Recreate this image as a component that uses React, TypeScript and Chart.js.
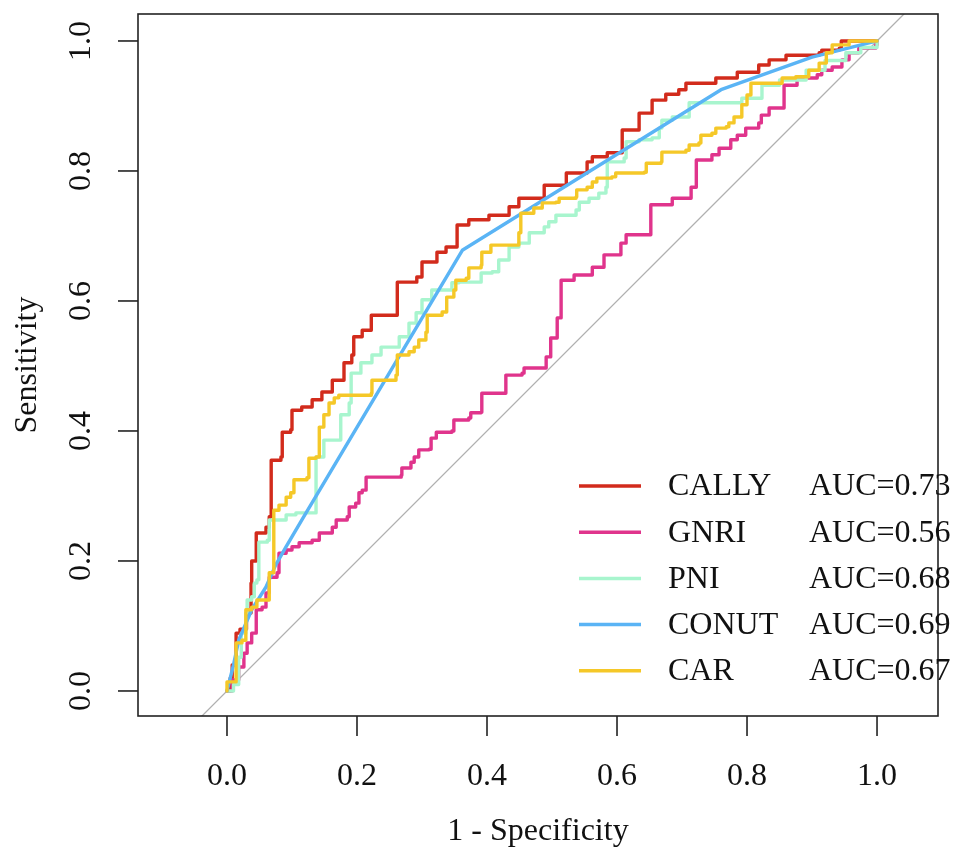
import React, { useEffect, useRef } from "react";
import { Chart, registerables } from "chart.js";

Chart.register(...registerables);

// ---------- data ----------
const seriesNames = ["CALLY", "GNRI", "PNI", "CONUT", "CAR"];
const aucLabels = ["AUC=0.73", "AUC=0.56", "AUC=0.68", "AUC=0.69", "AUC=0.67"];
const seriesColors = ["#D22B1C", "#E0348C", "#A8F5CE", "#5AB4F5", "#F5C828"];

const xTicks = [0, 0.2, 0.4, 0.6, 0.8, 1.0];
const xTickLabels = ["0.0", "0.2", "0.4", "0.6", "0.8", "1.0"];
const yTicks = [0, 0.2, 0.4, 0.6, 0.8, 1.0];
const yTickLabels = ["0.0", "0.2", "0.4", "0.6", "0.8", "1.0"];
const xTitle = "1 - Specificity";
const yTitle = "Sensitivity";

// points are [1 - specificity, sensitivity]
const callyPoints: [number, number][] = [
  [0, 0], [0.005, 0.02], [0.008, 0.04], [0.014, 0.045], [0.014, 0.089], [0.02, 0.095],
  [0.03, 0.12], [0.037, 0.166], [0.038, 0.2], [0.044, 0.2], [0.045, 0.243], [0.06, 0.252],
  [0.065, 0.268], [0.068, 0.268], [0.068, 0.355], [0.083, 0.36], [0.085, 0.398], [0.098, 0.402],
  [0.1, 0.432], [0.115, 0.437], [0.131, 0.448], [0.146, 0.46], [0.162, 0.478], [0.18, 0.505],
  [0.192, 0.517], [0.195, 0.545], [0.208, 0.555], [0.222, 0.578], [0.26, 0.578], [0.262, 0.629],
  [0.292, 0.637], [0.3, 0.66], [0.323, 0.675], [0.337, 0.683], [0.354, 0.717], [0.372, 0.725],
  [0.403, 0.732], [0.434, 0.745], [0.449, 0.758], [0.488, 0.778], [0.522, 0.797], [0.554, 0.814],
  [0.562, 0.822], [0.585, 0.828], [0.608, 0.863], [0.634, 0.889], [0.654, 0.909], [0.675, 0.918],
  [0.695, 0.925], [0.706, 0.935], [0.752, 0.943], [0.785, 0.952], [0.818, 0.963], [0.834, 0.971],
  [0.86, 0.978], [0.911, 0.982], [0.915, 0.986], [0.942, 0.989], [0.945, 1.0], [1, 1],
];

const gnriPoints: [number, number][] = [
  [0, 0], [0.008, 0.017], [0.018, 0.037], [0.026, 0.058], [0.031, 0.074], [0.038, 0.089],
  [0.045, 0.125], [0.054, 0.129], [0.06, 0.151], [0.065, 0.175], [0.077, 0.182], [0.08, 0.212],
  [0.091, 0.217], [0.1, 0.222], [0.111, 0.228], [0.131, 0.232], [0.142, 0.243], [0.162, 0.252],
  [0.168, 0.263], [0.185, 0.268], [0.188, 0.283], [0.198, 0.289], [0.203, 0.305], [0.208, 0.309],
  [0.214, 0.329], [0.268, 0.332], [0.269, 0.343], [0.283, 0.352], [0.288, 0.36], [0.295, 0.371],
  [0.311, 0.372], [0.314, 0.389], [0.322, 0.398], [0.346, 0.4], [0.349, 0.417], [0.372, 0.42],
  [0.375, 0.428], [0.391, 0.429], [0.392, 0.458], [0.429, 0.458], [0.429, 0.486], [0.454, 0.489],
  [0.457, 0.497], [0.491, 0.497], [0.491, 0.514], [0.498, 0.543], [0.508, 0.574], [0.514, 0.632],
  [0.534, 0.64], [0.562, 0.652], [0.58, 0.671], [0.606, 0.689], [0.614, 0.702], [0.652, 0.702],
  [0.652, 0.748], [0.685, 0.758], [0.714, 0.775], [0.722, 0.817], [0.746, 0.825], [0.757, 0.835],
  [0.775, 0.848], [0.785, 0.855], [0.798, 0.866], [0.818, 0.874], [0.822, 0.886], [0.834, 0.897],
  [0.854, 0.897], [0.857, 0.932], [0.877, 0.943], [0.908, 0.948], [0.915, 0.955], [0.931, 0.96],
  [0.946, 0.971], [0.957, 0.982], [0.972, 0.989], [0.998, 0.994], [1, 1],
];

const pniPoints: [number, number][] = [
  [0, 0], [0.01, 0.01], [0.018, 0.052], [0.022, 0.089], [0.029, 0.12], [0.031, 0.14],
  [0.038, 0.145], [0.042, 0.166], [0.046, 0.171], [0.049, 0.229], [0.062, 0.232], [0.065, 0.263],
  [0.091, 0.271], [0.106, 0.274], [0.137, 0.294], [0.137, 0.36], [0.149, 0.374], [0.149, 0.386],
  [0.172, 0.386], [0.175, 0.425], [0.188, 0.443], [0.191, 0.489], [0.206, 0.505], [0.223, 0.517],
  [0.237, 0.529], [0.265, 0.545], [0.28, 0.566], [0.291, 0.582], [0.3, 0.602], [0.315, 0.617],
  [0.346, 0.628], [0.357, 0.629], [0.391, 0.643], [0.408, 0.645], [0.418, 0.663], [0.434, 0.683],
  [0.449, 0.689], [0.465, 0.705], [0.488, 0.714], [0.495, 0.722], [0.506, 0.732], [0.537, 0.74],
  [0.542, 0.752], [0.557, 0.758], [0.572, 0.766], [0.583, 0.775], [0.585, 0.814], [0.611, 0.82],
  [0.614, 0.845], [0.634, 0.848], [0.654, 0.851], [0.665, 0.866], [0.669, 0.878], [0.685, 0.883],
  [0.711, 0.905], [0.792, 0.912], [0.823, 0.932], [0.85, 0.94], [0.891, 0.955], [0.92, 0.97],
  [0.952, 0.982], [0.975, 0.99], [1, 1],
];

const conutPoints: [number, number][] = [
  [0, 0], [0.01, 0.04], [0.018, 0.078], [0.038, 0.125], [0.06, 0.16], [0.075, 0.194],
  [0.091, 0.222], [0.115, 0.263], [0.362, 0.678], [0.76, 0.925], [0.9, 0.975], [1, 1],
];

const carPoints: [number, number][] = [
  [0, 0], [0, 0.014], [0.011, 0.014], [0.014, 0.074], [0.023, 0.078], [0.029, 0.125],
  [0.038, 0.129], [0.046, 0.14], [0.054, 0.14], [0.065, 0.182], [0.069, 0.182], [0.072, 0.278],
  [0.08, 0.286], [0.091, 0.298], [0.098, 0.305], [0.103, 0.325], [0.123, 0.328], [0.126, 0.358],
  [0.137, 0.36], [0.142, 0.406], [0.149, 0.425], [0.157, 0.443], [0.165, 0.451], [0.172, 0.455],
  [0.222, 0.458], [0.223, 0.478], [0.26, 0.486], [0.262, 0.517], [0.28, 0.522], [0.288, 0.529],
  [0.295, 0.54], [0.306, 0.552], [0.308, 0.578], [0.331, 0.583], [0.338, 0.606], [0.349, 0.617],
  [0.352, 0.632], [0.368, 0.635], [0.372, 0.651], [0.391, 0.655], [0.392, 0.675], [0.406, 0.686],
  [0.446, 0.686], [0.449, 0.705], [0.452, 0.735], [0.472, 0.743], [0.48, 0.743], [0.485, 0.751],
  [0.506, 0.752], [0.511, 0.758], [0.537, 0.76], [0.538, 0.771], [0.554, 0.775], [0.562, 0.783],
  [0.569, 0.789], [0.592, 0.791], [0.598, 0.797], [0.642, 0.798], [0.645, 0.812], [0.668, 0.814],
  [0.669, 0.829], [0.706, 0.832], [0.711, 0.84], [0.726, 0.843], [0.729, 0.855], [0.746, 0.858],
  [0.752, 0.866], [0.768, 0.868], [0.772, 0.874], [0.78, 0.883], [0.792, 0.902], [0.8, 0.917],
  [0.806, 0.935], [0.854, 0.937], [0.854, 0.943], [0.875, 0.945], [0.895, 0.955], [0.911, 0.966],
  [0.922, 0.982], [0.931, 0.994], [0.957, 0.997], [0.957, 1.0], [1, 1],
];

const seriesPoints = [callyPoints, gnriPoints, pniPoints, conutPoints, carPoints];
const seriesStepped = [true, true, true, false, true];

// axis ranges (R style, extended)
const X_MIN = -0.1369;
const X_MAX = 1.0938;
const Y_MIN = -0.0385;
const Y_MAX = 1.0415;

const FONT = '"Liberation Serif", "Times New Roman", Times, serif';
const FONT_SIZE = 32;
const TEXT_COLOR = "#111111";

const rAxesPlugin = {
  id: "rAxes",
  beforeDraw(chart: any) {
    const { ctx, width, height } = chart;
    ctx.save();
    ctx.fillStyle = "#ffffff";
    ctx.fillRect(0, 0, width, height);
    ctx.restore();
  },
  beforeDatasetsDraw(chart: any) {
    const { ctx, chartArea: a, scales } = chart;
    const xs = scales.x;
    const ys = scales.y;
    ctx.save();
    ctx.beginPath();
    ctx.rect(a.left, a.top, a.right - a.left, a.bottom - a.top);
    ctx.clip();
    const lo = Math.min(xs.min, ys.min) - 0.1;
    const hi = Math.max(xs.max, ys.max) + 0.1;
    ctx.strokeStyle = "#B0B0B0";
    ctx.lineWidth = 1.3;
    ctx.beginPath();
    ctx.moveTo(xs.getPixelForValue(lo), ys.getPixelForValue(lo));
    ctx.lineTo(xs.getPixelForValue(hi), ys.getPixelForValue(hi));
    ctx.stroke();
    ctx.restore();
  },
  afterDraw(chart: any) {
    const { ctx, chartArea: a, scales } = chart;
    const xs = scales.x;
    const ys = scales.y;
    ctx.save();
    // box
    ctx.strokeStyle = "#222222";
    ctx.lineWidth = 1.6;
    ctx.strokeRect(a.left, a.top, a.right - a.left, a.bottom - a.top);

    const tickLen = 20;
    ctx.font = `${FONT_SIZE}px ${FONT}`;
    ctx.fillStyle = TEXT_COLOR;

    // x ticks
    ctx.textAlign = "center";
    ctx.textBaseline = "middle";
    xTicks.forEach((v, i) => {
      const px = xs.getPixelForValue(v);
      ctx.beginPath();
      ctx.moveTo(px, a.bottom);
      ctx.lineTo(px, a.bottom + tickLen);
      ctx.stroke();
      ctx.fillText(xTickLabels[i], px, a.bottom + 61);
    });

    // y ticks
    yTicks.forEach((v, i) => {
      const py = ys.getPixelForValue(v);
      ctx.beginPath();
      ctx.moveTo(a.left, py);
      ctx.lineTo(a.left - tickLen, py);
      ctx.stroke();
      ctx.save();
      ctx.translate(a.left - 56, py);
      ctx.rotate(-Math.PI / 2);
      ctx.fillText(yTickLabels[i], 0, 0);
      ctx.restore();
    });

    // axis titles
    ctx.fillText(xTitle, (a.left + a.right) / 2, a.bottom + 116);
    ctx.save();
    ctx.translate(a.left - 110, (a.top + a.bottom) / 2);
    ctx.rotate(-Math.PI / 2);
    ctx.fillText(yTitle, 0, 0);
    ctx.restore();

    // legend
    const lx0 = 579;
    const lx1 = 641;
    const ly0 = 486;
    const lstep = 46.2;
    ctx.textAlign = "left";
    seriesNames.forEach((name, i) => {
      const yy = ly0 + i * lstep;
      ctx.strokeStyle = seriesColors[i];
      ctx.lineWidth = 3.5;
      ctx.lineCap = "butt";
      ctx.beginPath();
      ctx.moveTo(lx0, yy);
      ctx.lineTo(lx1, yy);
      ctx.stroke();
      ctx.fillStyle = TEXT_COLOR;
      ctx.fillText(name, 668, yy + 1);
      ctx.fillText(aucLabels[i], 809, yy + 1);
    });
    ctx.restore();
  },
};

export default function App() {
  const canvasRef = useRef<HTMLCanvasElement | null>(null);

  useEffect(() => {
    if (!canvasRef.current) return;
    const datasets = seriesNames.map((name, i) => ({
      label: name,
      data: seriesPoints[i].map(([x, y]) => ({ x, y })),
      borderColor: seriesColors[i],
      backgroundColor: seriesColors[i],
      borderWidth: 3.4,
      pointRadius: 0,
      showLine: true,
      fill: false,
      stepped: seriesStepped[i] ? ("before" as const) : false,
      borderJoinStyle: "round" as const,
      borderCapStyle: "round" as const,
      tension: 0,
      order: seriesNames.length - i,
    }));

    const chart = new Chart(canvasRef.current, {
      type: "scatter",
      data: { datasets },
      options: {
        responsive: false,
        animation: false,
        devicePixelRatio: 1,
        layout: { padding: { left: 138, top: 14, right: 15, bottom: 135 } },
        scales: {
          x: { type: "linear", min: X_MIN, max: X_MAX, display: false },
          y: { type: "linear", min: Y_MIN, max: Y_MAX, display: false },
        },
        plugins: {
          legend: { display: false },
          tooltip: { enabled: false },
        },
      },
      plugins: [rAxesPlugin],
    });
    return () => chart.destroy();
  }, []);

  return (
    <div style={{ position: "absolute", left: 0, top: 0, width: 953, height: 851 }}>
      <canvas ref={canvasRef} width={953} height={851} style={{ display: "block" }} />
    </div>
  );
}
